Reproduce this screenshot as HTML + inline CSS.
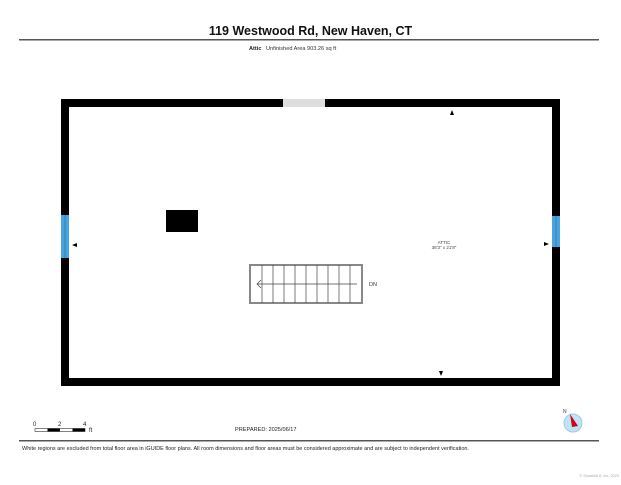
<!DOCTYPE html>
<html><head><meta charset="utf-8"><style>
body{margin:0;width:621px;height:480px;background:#fff;overflow:hidden;font-family:"Liberation Sans",sans-serif;}
</style></head><body>
<svg width="621" height="480" viewBox="0 0 621 480" xmlns="http://www.w3.org/2000/svg" style="font-family:'Liberation Sans',sans-serif">
<text x="310.5" y="35" text-anchor="middle" font-size="12.5" font-weight="bold" fill="#111">119 Westwood Rd, New Haven, CT</text>
<rect x="19" y="39" width="580" height="1.5" fill="#555"/>
<text x="249" y="50" font-size="5.6" font-weight="bold" fill="#222">Attic</text>
<text x="266" y="50" font-size="5.6" fill="#333">Unfinished Area 903.26 sq ft</text>
<!-- walls -->
<rect x="61" y="99" width="222" height="8" fill="#000"/>
<rect x="283" y="99" width="42" height="8" fill="#ddd"/>
<rect x="325" y="99" width="235" height="8" fill="#000"/>
<rect x="61" y="378" width="499" height="8" fill="#000"/>
<rect x="61" y="99" width="8" height="116" fill="#000"/>
<rect x="61" y="215" width="8" height="43" fill="#4aa3df"/>
<line x1="65" y1="215" x2="65" y2="258" stroke="#1d6fa8" stroke-width="0.6"/>
<rect x="61" y="258" width="8" height="128" fill="#000"/>
<rect x="552" y="99" width="8" height="117" fill="#000"/>
<rect x="552" y="216" width="8" height="31" fill="#4aa3df"/>
<line x1="556" y1="216" x2="556" y2="247" stroke="#1d6fa8" stroke-width="0.6"/>
<rect x="552" y="247" width="8" height="139" fill="#000"/>
<!-- arrows -->
<polygon points="452,110 450,115 454,115" fill="#000"/>
<polygon points="72,245 77,243 77,247" fill="#000"/>
<polygon points="549,244 544,242 544,246" fill="#000"/>
<polygon points="441,376 439,371 443,371" fill="#000"/>
<!-- block -->
<rect x="166" y="210" width="32" height="22" fill="#000"/>
<!-- room label -->
<text x="444" y="244" text-anchor="middle" font-size="4.5" fill="#444">ATTIC</text>
<text x="444" y="249" text-anchor="middle" font-size="4.5" fill="#444">36'3" x 21'8"</text>
<!-- stairs -->
<rect x="250" y="265" width="112" height="38" fill="#fff" stroke="#888" stroke-width="2"/>
<g stroke="#444" stroke-width="0.7">
<line x1="262" y1="265" x2="262" y2="303"/><line x1="273" y1="265" x2="273" y2="303"/>
<line x1="284" y1="265" x2="284" y2="303"/><line x1="295" y1="265" x2="295" y2="303"/>
<line x1="306" y1="265" x2="306" y2="303"/><line x1="317" y1="265" x2="317" y2="303"/>
<line x1="328" y1="265" x2="328" y2="303"/><line x1="339" y1="265" x2="339" y2="303"/>
<line x1="350" y1="265" x2="350" y2="303"/>
<line x1="257" y1="284" x2="357" y2="284"/>
<polyline points="261,280 257,284 261,288" fill="none"/>
</g>
<text x="369" y="286" font-size="5.5" fill="#333">DN</text>
<!-- scale -->
<text x="33" y="426" font-size="6" fill="#222">0</text>
<text x="58" y="426" font-size="6" fill="#222">2</text>
<text x="83" y="426" font-size="6" fill="#222">4</text>
<rect x="35" y="428.5" width="50" height="3" fill="#fff" stroke="#333" stroke-width="0.6"/>
<rect x="47.5" y="428.5" width="12.5" height="3" fill="#000"/>
<rect x="72.5" y="428.5" width="12.5" height="3" fill="#000"/>
<text x="89" y="432" font-size="6" fill="#222">ft</text>
<text x="235" y="431" font-size="5.6" fill="#222">PREPARED: 2025/06/17</text>
<!-- compass -->
<circle cx="573" cy="423" r="9" fill="#bfe3f7" stroke="#9ccbe6" stroke-width="1"/>
<polygon points="570,414 578,426 572,427" fill="#d0021b"/>
<text x="563" y="413" font-size="5" fill="#333">N</text>
<rect x="19" y="440" width="580" height="1.5" fill="#555"/>
<text x="22" y="450" font-size="5.5" fill="#222">White regions are excluded from total floor area in iGUIDE floor plans. All room dimensions and floor areas must be considered approximate and are subject to independent verification.</text>
<text x="619" y="477" text-anchor="end" font-size="3.8" fill="#aaa">© SmartMLS, Inc. 2025</text>
</svg>
</body></html>
